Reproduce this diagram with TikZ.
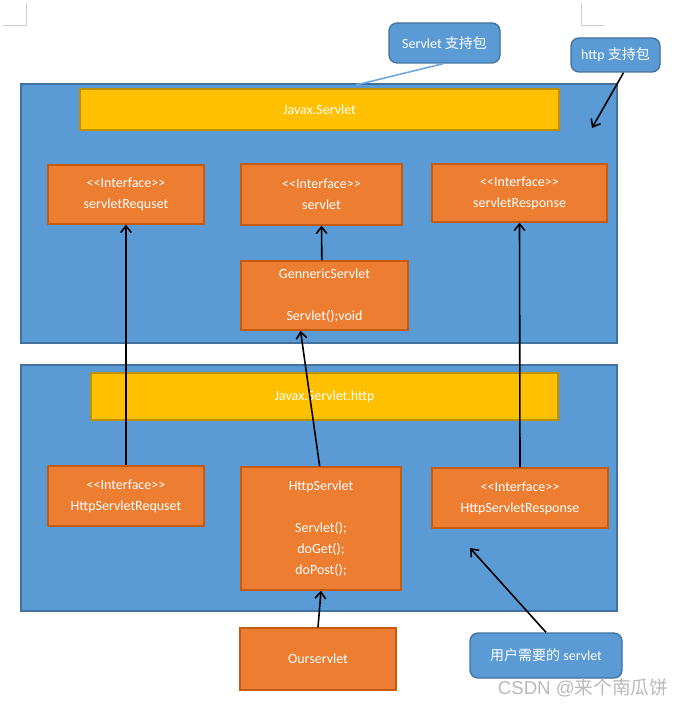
\documentclass[tikz,border=0pt]{standalone}
\usepackage{fontspec}
\setmainfont{Carlito}
\newfontfamily\cjk{Noto Sans CJK SC}
\newfontfamily\wmfont{Liberation Sans}
\usetikzlibrary{arrows.meta}

\definecolor{pkgblue}{RGB}{91,155,213}
\definecolor{pkgedge}{RGB}{65,113,156}
\definecolor{clsorange}{RGB}{237,125,49}
\definecolor{clsedge}{RGB}{197,90,17}
\definecolor{baryellow}{RGB}{255,192,0}
\definecolor{baredge}{RGB}{191,144,0}
\definecolor{pointerblue}{RGB}{112,168,222}

\newcommand{\iface}{<{}<Interface>{}>}

\tikzset{
	pkg/.style={draw=pkgedge, fill=pkgblue, line width=1pt, inner sep=0pt},
	bar/.style={draw=baredge, fill=baryellow, line width=1pt, text=white, inner sep=0pt},
	cls/.style={draw=clsedge, fill=clsorange, line width=1pt, text=white, align=center, inner sep=0pt},
	note/.style={draw=pkgedge, fill=pkgblue, line width=1pt, rounded corners=6pt, text=white, inner sep=0pt},
	link/.style={line width=1.2pt, -{Straight Barb[length=5pt,width=8pt]}}
}

\begin{document}
\begin{tikzpicture}[x=0.75pt, y=-0.75pt, font=\fontsize{10.5}{15.75}\selectfont]
	\useasboundingbox (0,0) rectangle (677,705);

	\draw[gray!40] (26,3) -- (26,25) -- (3,25);
	\draw[gray!40] (581,3) -- (581,25) -- (604,25);

	\node[pkg, minimum width=447pt, minimum height=194.25pt] (pkgA) at (319,213.5) {};
	\node[bar, minimum width=359.25pt, minimum height=30.75pt] (barA) at (319.5,109.5) {Javax.Servlet};
	\node[cls, minimum width=117pt, minimum height=44.25pt] (reqA) at (126,194.5) {\iface\\servletRequset};
	\node[cls, minimum width=120.75pt, minimum height=45.75pt] (srv) at (321.5,194.5) {\iface\\servlet};
	\node[cls, minimum width=131.25pt, minimum height=43.5pt] (respA) at (519.5,193) {\iface\\servletResponse};
	\node[cls, minimum width=125.25pt, minimum height=51.75pt] (gen) at (324.5,295.5) {GennericServlet\\ \\Servlet();void};

	\node[pkg, minimum width=447pt, minimum height=184.5pt] (pkgB) at (319,488) {};
	\node[bar, minimum width=350.25pt, minimum height=35.25pt] (barB) at (324.5,396.5) {Javax.Servlet.http};
	\node[cls, minimum width=117pt, minimum height=45pt] (reqB) at (126,496) {\iface\\HttpServletRequset};
	\node[cls, minimum width=120pt, minimum height=92.25pt] (http) at (321,528.5) {HttpServlet\\ \\Servlet();\\doGet();\\doPost();};
	\node[cls, minimum width=132pt, minimum height=45pt] (respB) at (520,498) {\iface\\HttpServletResponse};

	\node[cls, minimum width=117pt, minimum height=46.5pt] (ours) at (318,659) {Ourservlet};

	\node[note, minimum width=83.25pt, minimum height=30pt] (noteA) at (444.5,43) {Servlet {\cjk 支持包}};
	\node[note, minimum width=66.75pt, minimum height=25.5pt] (noteB) at (615.5,55) {http {\cjk 支持包}};
	\node[note, minimum width=114pt, minimum height=33.75pt] (noteC) at (546,655.5) {{\cjk 用户需要的} servlet};

	\coordinate (tipA) at (356,85);
	\coordinate (tipB) at (592,128);
	\coordinate (tipC) at (470,548);

	\draw[pointerblue, line width=1.2pt] ([xshift=-1pt]noteA.south) -- (tipA);
	\draw[link] ([xshift=6pt]noteB.south) -- (tipB);
	\draw[link] (noteC.north) -- (tipC);

	\draw[link] (reqB.north) -- (reqA.south);
	\draw[link] ([xshift=-1pt]http.north) -- ([xshift=-18pt]gen.south);
	\draw[link] (respB.north) -- (respA.south);
	\draw[link] ([xshift=-2pt]gen.north) -- (srv.south);
	\draw[link] (ours.north) -- (http.south);

	\node[text=gray!55, font=\fontsize{14}{16}\selectfont] (mark) at (583,688) {\wmfont CSDN @{\cjk 来个南瓜饼}};
\end{tikzpicture}
\end{document}
